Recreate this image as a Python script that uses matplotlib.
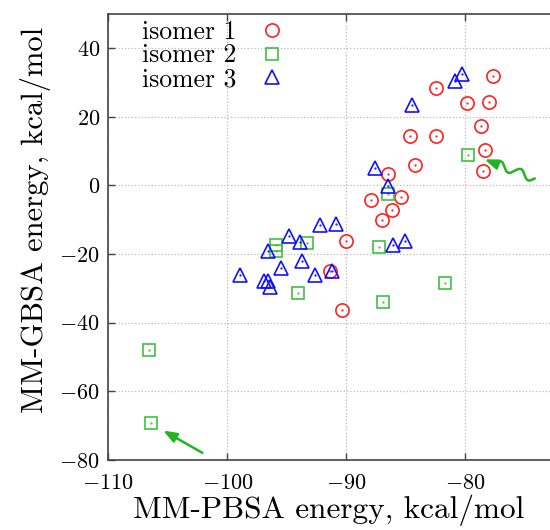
import numpy as np
import matplotlib
matplotlib.use("Agg")
import matplotlib.pyplot as plt

plt.rcParams["font.family"] = "cmr10"
plt.rcParams["mathtext.fontset"] = "cm"
plt.rcParams["axes.formatter.use_mathtext"] = True

# MM-PBSA (x) vs MM-GBSA (y) energies, kcal/mol
iso1_x = [-77.7, -82.5, -79.9, -78.0, -78.7, -84.7, -82.5, -78.4, -84.2, -78.5,
          -86.5, -87.9, -85.4, -86.2, -87.0, -90.0, -91.4, -90.4]
iso1_y = [32.0, 28.5, 24.0, 24.4, 17.3, 14.5, 14.4, 10.4, 6.0, 4.1,
          3.3, -4.3, -3.5, -7.1, -10.1, -16.1, -24.9, -36.4]

iso2_x = [-79.8, -86.5, -93.3, -95.9, -95.9, -87.3, -81.7, -94.1, -86.9, -106.6, -106.4]
iso2_y = [9.0, -2.6, -16.7, -17.3, -19.2, -17.9, -28.5, -31.2, -34.0, -47.9, -69.1]

iso3_x = [-80.3, -80.9, -84.5, -87.6, -86.5, -92.2, -90.9, -94.8, -93.9, -96.6,
          -86.1, -85.1, -93.7, -95.5, -98.9, -92.6, -91.2, -96.9, -96.6, -96.4]
iso3_y = [32.5, 30.5, 23.3, 5.1, -0.1, -11.5, -11.1, -14.6, -16.6, -19.1,
          -17.5, -16.1, -22.1, -24.1, -26.2, -26.0, -25.0, -27.7, -27.7, -29.6]

labels = ["isomer 1", "isomer 2", "isomer 3"]

fig = plt.figure(figsize=(5.5, 5.3), dpi=100)
ax = fig.add_axes([0.197, 0.132, 0.803, 0.842])

series = [(iso1_x, iso1_y, "o", "#ff2020", 9.5),
          (iso2_x, iso2_y, "s", "#40c040", 8.5),
          (iso3_x, iso3_y, "^", "#1010ff", 9.5)]
for (x, y, m, c, ms), lab in zip(series, labels):
    ax.plot(x, y, ls="none", marker=m, ms=ms, mfc="none", mec=c, mew=1.2, label=lab)
    ax.plot(x, y, ls="none", marker=".", ms=1.2, color=c)

# arrows pointing at two isomer 2 points
green = "#22b522"
ax.annotate("", xy=(-105.4, -71.4), xytext=(-102.1, -77.9),
            arrowprops=dict(arrowstyle="-|>,head_length=0.8,head_width=0.3",
                            color=green, lw=1.8, shrinkA=0, shrinkB=0))

# wavy arrow
hx, hy = -78.4, 7.6
tx, ty = -74.2, 2.0
sx, sy = 11.92, 3.45  # px per unit
dx, dy = (hx - tx) * sx, (hy - ty) * sy
L = np.hypot(dx, dy)
ux, uy = dx / L, dy / L
t = np.linspace(0, L * 0.8, 200)
w = 4.0 * np.sin(t / L * 2.5 * 2 * np.pi)
px = tx + (t * ux - w * uy) / sx
py = ty + (t * uy + w * ux) / sy
ax.plot(px, py, color=green, lw=1.8)
ax.annotate("", xy=(hx, hy), xytext=(px[-1], py[-1]),
            arrowprops=dict(arrowstyle="-|>,head_length=0.8,head_width=0.3",
                            color=green, lw=1.8, shrinkA=0, shrinkB=0))

ax.set_xlim(-110, -72.9)
ax.set_ylim(-80, 50)
ax.set_xticks([-110, -100, -90, -80])
ax.set_yticks([-80, -60, -40, -20, 0, 20, 40])
ax.grid(True, color="#bbbbbb", ls=":", lw=0.9)
ax.tick_params(direction="in", length=5, width=1, colors="#444444",
               labelcolor="black", labelsize=16, top=True, pad=6)
ax.tick_params(axis="x", pad=10)
for s in ax.spines.values():
    s.set_color("#444444")
    s.set_linewidth(1.2)
ax.spines["right"].set_visible(False)

ax.set_xlabel("MM-PBSA energy, kcal/mol", fontsize=22.5, labelpad=1)
ax.set_ylabel("MM-GBSA energy, kcal/mol", fontsize=22)
ax.yaxis.set_label_coords(-0.13, 0.538)

ax.legend(loc="upper left", bbox_to_anchor=(0.076, 0.986),
          frameon=False, markerfirst=False, fontsize=18.5, handlelength=0.8,
          handletextpad=1.0, labelspacing=0.0, borderaxespad=0.0, borderpad=0.0)

fig.savefig("out.png", dpi=100)
